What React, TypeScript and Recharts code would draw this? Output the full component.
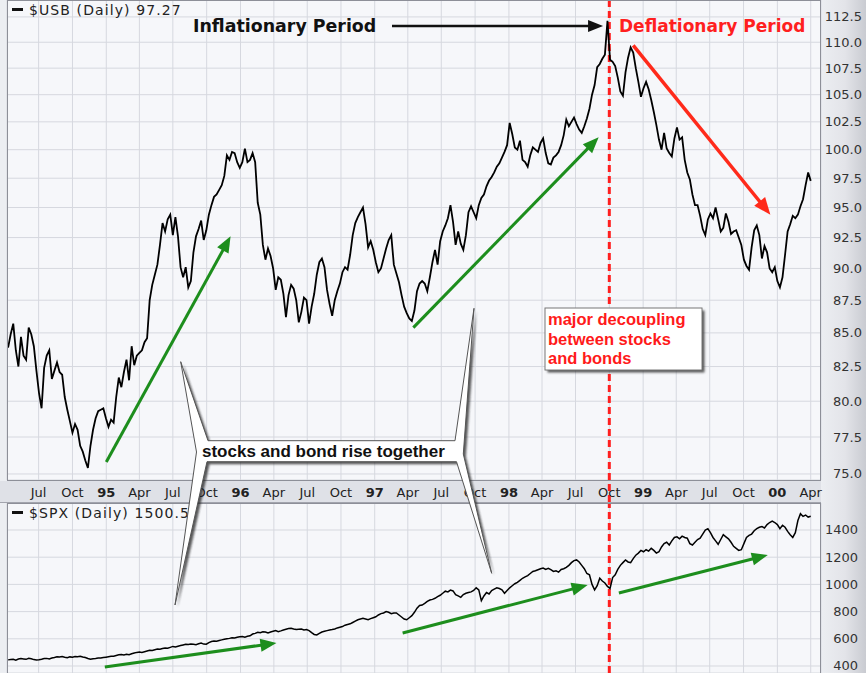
import React from 'react';
import { LineChart, Line, XAxis, YAxis, CartesianGrid, ReferenceLine } from 'recharts';

// ---------- data ----------
const SERIES_START = '1994-04-09'; // first weekly close
const X_DOMAIN_DATES = ['1994-04-06', '2000-04-29'];
const DECOUPLING_DATE = '1998-10-01';

// $USB weekly closes (log-scale panel)
const usbWeekly = [
  83.9, 84.9, 85.7, 83.7, 82.5, 84.7, 83.3, 83.0, 85.4, 84.9,
  84.0, 82.2, 80.6, 79.5, 82.4, 83.3, 83.7, 81.6, 82.2, 82.8,
  82.1, 81.9, 80.3, 79.4, 78.6, 77.8, 78.4, 78.0, 76.9, 76.5,
  75.9, 75.4, 76.9, 78.0, 78.8, 79.3, 79.4, 79.5, 78.8, 78.2,
  78.7, 78.5, 80.3, 81.7, 81.0, 82.1, 83.0, 81.5, 84.0, 82.6,
  83.3, 83.5, 83.7, 84.3, 84.6, 87.5, 88.7, 89.5, 90.3, 91.9,
  93.7, 93.0, 94.0, 94.4, 92.7, 94.2, 92.6, 90.1, 89.3, 90.1,
  88.5, 89.0, 91.3, 92.6, 93.2, 93.9, 92.3, 93.1, 94.4, 95.2,
  95.9, 96.1, 96.5, 96.9, 97.7, 99.5, 99.1, 99.8, 99.7, 98.9,
  98.4, 98.9, 100.1, 98.9, 99.1, 99.7, 98.9, 95.4, 94.4, 91.9,
  90.7, 91.6, 91.0, 90.0, 88.3, 89.3, 89.1, 88.0, 86.2, 87.9,
  88.7, 88.4, 87.5, 85.8, 86.6, 87.7, 87.5, 85.7, 87.0, 88.0,
  89.5, 90.5, 90.8, 90.1, 88.3, 87.2, 86.3, 87.5, 88.2, 88.8,
  89.7, 90.1, 89.9, 91.1, 92.7, 93.7, 94.2, 94.6, 95.0, 93.6,
  91.7, 92.2, 91.5, 90.5, 89.7, 90.0, 90.8, 91.6, 92.3, 92.7,
  90.3, 89.6, 88.9, 87.9, 87.0, 86.5, 86.1, 85.9, 86.7, 88.2,
  88.8, 89.0, 88.8, 88.2, 89.3, 90.5, 91.5, 90.3, 92.2, 93.0,
  93.5, 94.1, 95.2, 93.8, 91.9, 93.0, 92.0, 91.5, 92.7, 94.6,
  95.1, 94.6, 94.1, 95.2, 95.8, 96.1, 96.8, 97.3, 97.6, 98.0,
  98.5, 98.8, 99.3, 99.8, 100.4, 102.4, 101.4, 100.2, 100.0, 100.8,
  99.1, 98.9, 98.5, 99.5, 100.2, 100.0, 99.8, 100.6, 101.0, 99.7,
  98.8, 98.7, 99.3, 99.5, 99.8, 100.4, 101.3, 102.7, 102.1, 102.5,
  102.9, 102.3, 101.8, 101.5, 102.1, 102.8, 103.7, 105.0, 105.9, 107.6,
  107.9, 108.4, 108.8, 112.1, 108.3, 108.1, 107.7, 106.6, 105.3, 104.9,
  107.1, 108.5, 109.5, 109.0, 107.5, 106.2, 104.8, 105.6, 106.2, 105.5,
  104.5, 103.4, 102.2, 100.9, 100.0, 101.5, 100.1, 99.7, 99.4, 101.0,
  102.0, 100.9, 101.1, 99.1, 98.0, 97.4, 96.1, 95.2, 95.2, 94.3,
  93.2, 92.7, 94.0, 94.5, 94.1, 95.0, 94.0, 93.0, 93.3, 94.5,
  93.8, 92.8, 93.0, 93.1, 92.5, 91.9, 90.7, 90.2, 89.9, 91.7,
  93.1, 93.5, 92.7, 90.8, 91.8, 91.3, 90.0, 89.7, 90.1, 89.0,
  88.5, 89.3, 91.1, 93.0, 93.6, 94.3, 94.1, 94.4, 95.1, 95.7,
  96.9, 98.0, 97.27,
];

// $SPX weekly closes
const spxWeekly = [
  445, 447, 449, 443, 451, 455, 452, 449, 456, 453,
  447, 444, 446, 450, 455, 456, 452, 459, 462, 468,
  466, 470, 465, 461, 467, 465, 470, 468, 472, 466,
  462, 455, 450, 454, 455, 458, 459, 462, 465, 468,
  471, 472, 477, 482, 484, 481, 487, 483, 490, 495,
  500, 503, 500, 505, 510, 515, 514, 520, 525, 523,
  528, 533, 530, 537, 544, 540, 545, 550, 555, 560,
  558, 562, 560, 557, 563, 568, 561, 560, 572, 580,
  584, 582, 588, 592, 596, 600, 603, 608, 606, 612,
  615, 617, 612, 618, 622, 635, 640, 648, 645, 652,
  650, 643, 650, 655, 660, 652, 658, 665, 670, 675,
  678, 672, 668, 670, 672, 665, 668, 660, 645, 632,
  628, 640, 650, 655, 660, 665, 668, 672, 680, 685,
  690, 700, 705, 710, 720, 730, 740, 745, 750, 745,
  740, 748, 755, 762, 775, 785, 790, 800, 795, 785,
  790, 790, 775, 760, 745, 740, 755, 770, 795, 825,
  845, 848, 860, 875, 885, 890, 898, 910, 920, 935,
  950, 945, 958, 952, 925, 915, 905, 925, 935, 940,
  945, 955, 975, 960, 880, 915, 940, 930, 955, 965,
  975, 970, 960, 935, 955, 975, 990, 1005, 1015, 1030,
  1045, 1055, 1065, 1080, 1095, 1100, 1108, 1115, 1120, 1110,
  1118, 1108, 1095, 1100, 1090, 1110, 1115, 1125, 1140, 1160,
  1175, 1180, 1165, 1140, 1115, 1080, 1070, 1000, 960, 990,
  1045, 1025, 1010, 985, 970, 1050, 1070, 1110, 1140, 1160,
  1180, 1165, 1160, 1190, 1215, 1230, 1250, 1240, 1255, 1245,
  1265, 1250, 1230, 1240, 1275, 1300, 1310, 1290, 1320, 1345,
  1350, 1335, 1355, 1345, 1340, 1300, 1290, 1310, 1330, 1340,
  1370, 1400, 1410, 1380, 1345, 1320, 1295, 1330, 1365, 1350,
  1335, 1310, 1280, 1265, 1250, 1255, 1300, 1345, 1360, 1370,
  1395, 1410, 1420, 1425, 1415, 1440, 1455, 1465, 1455, 1440,
  1410, 1435, 1420, 1390, 1365, 1345, 1380, 1470, 1520, 1500,
  1510, 1495, 1500.5,
];

const xTickDates = [
  '1994-07-01', '1994-10-01',
  '1995-01-01', '1995-04-01', '1995-07-01', '1995-10-01',
  '1996-01-01', '1996-04-01', '1996-07-01', '1996-10-01',
  '1997-01-01', '1997-04-01', '1997-07-01', '1997-10-01',
  '1998-01-01', '1998-04-01', '1998-07-01', '1998-10-01',
  '1999-01-01', '1999-04-01', '1999-07-01', '1999-10-01',
  '2000-01-01', '2000-04-01',
];
const monthNames = ['Jan', 'Feb', 'Mar', 'Apr', 'May', 'Jun', 'Jul', 'Aug', 'Sep', 'Oct', 'Nov', 'Dec'];

const usbTicks = [75, 77.5, 80, 82.5, 85, 87.5, 90, 92.5, 95, 97.5, 100, 102.5, 105, 107.5, 110, 112.5];
const spxTicks = [400, 600, 800, 1000, 1200, 1400];
const usbDomain = [74.6, 114.2];
const spxDomain = [348.5, 1598.5];

// annotation arrows: [fromDate, fromValue, toDate, toValue]
const usbGreenArrows: [string, number, string, number][] = [
  ['1995-01-01', 75.8, '1995-12-05', 92.6],
  ['1997-04-16', 85.4, '1998-09-02', 101.1],
];
const usbRedArrows: [string, number, string, number][] = [
  ['1998-12-05', 109.7, '1999-12-13', 94.4],
];
const usbBlackArrows: [string, number, string, number][] = [
  ['1997-02-17', 111.6, '1998-09-14', 111.6],
];
const spxGreenArrows: [string, number, string, number][] = [
  ['1994-12-28', 393, '1996-04-08', 569],
  ['1997-03-18', 643, '1998-08-03', 995],
  ['1998-10-27', 937, '1999-12-06', 1216],
];

// ---------- helpers ----------
const DAY = 86400000;
const yearOf = (ms: number) => {
  const d = new Date(ms);
  const y = d.getUTCFullYear();
  const a = Date.UTC(y, 0, 1);
  const b = Date.UTC(y + 1, 0, 1);
  return y + (ms - a) / (b - a);
};
const dateYear = (s: string) => yearOf(Date.parse(s + 'T00:00:00Z'));
const startMs = Date.parse(SERIES_START + 'T00:00:00Z');
const weekT = (i: number) => yearOf(startMs + i * 7 * DAY);

const usbData = usbWeekly.map((v, i) => ({ t: weekT(i), v }));
const spxData = spxWeekly.map((v, i) => ({ t: weekT(i), v }));
const xDomain = X_DOMAIN_DATES.map(dateYear);
const xTicks = xTickDates.map(dateYear);
const tDecouple = dateYear(DECOUPLING_DATE);

const tickLabel = (v: number) => {
  const y = Math.floor(v + 1e-6);
  const m = Math.round((v - y) * 12) % 12;
  if (m === 0) return { label: String(y % 100).padStart(2, '0'), bold: true };
  return { label: monthNames[m], bold: false };
};

const GREEN = '#1d8e1d';
const RED = '#ff2a1a';

function arrowShape(color: string, w: number, head: number, headW: number) {
  return (p: any) => {
    const { x1, y1, x2, y2 } = p;
    const dx = x2 - x1;
    const dy = y2 - y1;
    const L = Math.hypot(dx, dy) || 1;
    const ux = dx / L;
    const uy = dy / L;
    const bx = x2 - ux * head;
    const by = y2 - uy * head;
    const nx = (-uy * headW) / 2;
    const ny = (ux * headW) / 2;
    return (
      <g>
        <line x1={x1} y1={y1} x2={bx + ux * 2} y2={by + uy * 2} stroke={color} strokeWidth={w} />
        <polygon points={`${x2},${y2} ${bx + nx},${by + ny} ${bx - nx},${by - ny}`} fill={color} />
      </g>
    );
  };
}

const XTick = (p: any) => {
  const { label, bold } = tickLabel(p.payload.value);
  return (
    <text x={p.x} y={p.y + 17} textAnchor="middle" fontFamily="DejaVu Sans" fontSize={13}
      fontWeight={bold ? 'bold' : 'normal'} fill="#222">{label}</text>
  );
};
const makeYTick = (right: number, fixed: boolean) => (p: any) => (
  <text x={p.x + right} y={p.y + 4.5} textAnchor="end" fontFamily="DejaVu Sans" fontSize={13} fill="#333">
    {fixed ? Number(p.payload.value).toFixed(1) : p.payload.value}
  </text>
);

const arrowLines = (list: [string, number, string, number][], color: string, w: number, head: number, headW: number, key: string) =>
  list.map((a, i) => (
    <ReferenceLine key={key + i} segment={[{ x: dateYear(a[0]), y: a[1] }, { x: dateYear(a[2]), y: a[3] }]}
      ifOverflow="visible" stroke={color} shape={arrowShape(color, w, head, headW)} />
  ));

const calloutPath =
  'M180.7,361.7 L208,440.7 L455,440.7 L474,308.3 L463.3,454 L491.7,573.3 L456.5,461.7 L207,461.7 L175,605 L196.5,452 Z';

export default function App() {
  const GRID = '#d6d8df';
  const PLOT_BG = '#f6f7fa';
  const BORDER = '#8d8f98';
  return (
    <div style={{ position: 'absolute', left: 0, top: 0, width: 866, height: 673, overflow: 'hidden',
      background: 'linear-gradient(to right, #eceef2 0px, #eceef2 821px, #e3e4e9 845px, #c9cbd1 866px)' }}>
      {/* axis strip between panels */}
      <div style={{ position: 'absolute', left: 0, top: 481, width: 821, height: 21, background: '#dfe1e7',
        borderBottom: '1px solid #a2a4ad' }} />

      {/* top panel: $USB */}
      <div style={{ position: 'absolute', left: 0, top: 0 }}>
        <LineChart width={866} height={503} data={usbData} margin={{ top: 0, right: 0, bottom: 0, left: 7 }}>
          <CartesianGrid stroke={GRID} fill={PLOT_BG} />
          <XAxis dataKey="t" type="number" domain={xDomain} ticks={xTicks} allowDataOverflow interval={0}
            height={23} tickSize={0} tickMargin={0} axisLine={false} tickLine={false} tick={XTick} />
          <YAxis orientation="right" type="number" scale="log" domain={usbDomain} ticks={usbTicks} allowDataOverflow
            interval={0} width={45} tickSize={0} tickMargin={0} axisLine={false} tickLine={false} tick={makeYTick(41, true)} />
          <ReferenceLine segment={[{ x: tDecouple, y: usbDomain[1] }, { x: tDecouple, y: 70 }]} ifOverflow="visible"
            stroke="#ff1f1f" strokeWidth={3} strokeDasharray="7 4" />
          <Line type="linear" dataKey="v" stroke="#000" strokeWidth={1.8} dot={false} isAnimationActive={false} />
          {arrowLines(usbGreenArrows, GREEN, 3, 16, 13, 'ug')}
          {arrowLines(usbRedArrows, RED, 3.5, 17, 14, 'ur')}
          {arrowLines(usbBlackArrows, '#111', 2.5, 15, 12, 'ub')}
        </LineChart>
      </div>

      {/* bottom panel: $SPX */}
      <div style={{ position: 'absolute', left: 0, top: 503 }}>
        <LineChart width={866} height={170} data={spxData} margin={{ top: 0, right: 0, bottom: 0, left: 7 }}>
          <CartesianGrid stroke={GRID} fill={PLOT_BG} />
          <XAxis dataKey="t" type="number" domain={xDomain} ticks={xTicks} allowDataOverflow interval={0} hide />
          <YAxis orientation="right" type="number" domain={spxDomain} ticks={spxTicks} allowDataOverflow
            interval={0} width={45} tickSize={0} tickMargin={0} axisLine={false} tickLine={false} tick={makeYTick(37, false)} />
          <ReferenceLine x={tDecouple} ifOverflow="visible" stroke="#ff1f1f" strokeWidth={3} strokeDasharray="7 4" />
          <Line type="linear" dataKey="v" stroke="#000" strokeWidth={1.5} dot={false} isAnimationActive={false} />
          {arrowLines(spxGreenArrows, GREEN, 3, 16, 13, 'sg')}
        </LineChart>
      </div>

      {/* plot borders */}
      <div style={{ position: 'absolute', left: 7, top: 0, width: 814, height: 481, border: `1px solid ${BORDER}`, boxSizing: 'border-box', pointerEvents: 'none' }} />
      <div style={{ position: 'absolute', left: 7, top: 503, width: 814, height: 180, border: `1px solid ${BORDER}`, boxSizing: 'border-box', pointerEvents: 'none' }} />

      {/* annotations overlay */}
      <svg width={866} height={673} style={{ position: 'absolute', left: 0, top: 0, pointerEvents: 'none' }}>
        <defs>
          <filter id="blur1" x="-20%" y="-20%" width="140%" height="140%">
            <feGaussianBlur stdDeviation="1" />
          </filter>
        </defs>
        {/* legends */}
        <rect x={12} y={8} width={11} height={3} fill="#111" />
        <text x={29} y={15} fontFamily="DejaVu Sans" fontSize={14} letterSpacing={1.1} fill="#222">$USB (Daily) 97.27</text>
        <rect x={12} y={511} width={11} height={3} fill="#111" />
        <text x={29} y={518} fontFamily="DejaVu Sans" fontSize={14} letterSpacing={1.1} fill="#222">$SPX (Daily) 1500.5</text>

        {/* titles */}
        <text x={193} y={31.5} fontFamily="DejaVu Sans" fontWeight="bold" fontSize={17.4} fill="#111">Inflationary Period</text>
        <text x={619} y={31.5} fontFamily="DejaVu Sans" fontWeight="bold" fontSize={17} fill="#ff1f1f">Deflationary Period</text>

        {/* decoupling box */}
        <rect x={547.5} y={310.5} width={157} height={62} fill="#333" opacity={0.8} filter="url(#blur1)" />
        <rect x={545} y={308} width={157} height={62} fill="#fff" stroke="#777" strokeWidth={1} />
        <text fontFamily="Liberation Sans, Arial" fontWeight="bold" fontSize={16.5} fill="#ff1a1a">
          <tspan x={548} y={325}>major decoupling</tspan>
          <tspan x={548} y={344.5}>between stocks</tspan>
          <tspan x={548} y={364}>and bonds</tspan>
        </text>

        {/* callout */}
        <path d={calloutPath} transform="translate(2.5,2.5)" fill="#222" opacity={0.75} filter="url(#blur1)" />
        <path d={calloutPath} fill="#fff" stroke="#555" strokeWidth={1} strokeLinejoin="miter" />
        <text x={202} y={457} fontFamily="Liberation Sans, Arial" fontWeight="bold" fontSize={17} fill="#111">stocks and bond rise together</text>
      </svg>
    </div>
  );
}
